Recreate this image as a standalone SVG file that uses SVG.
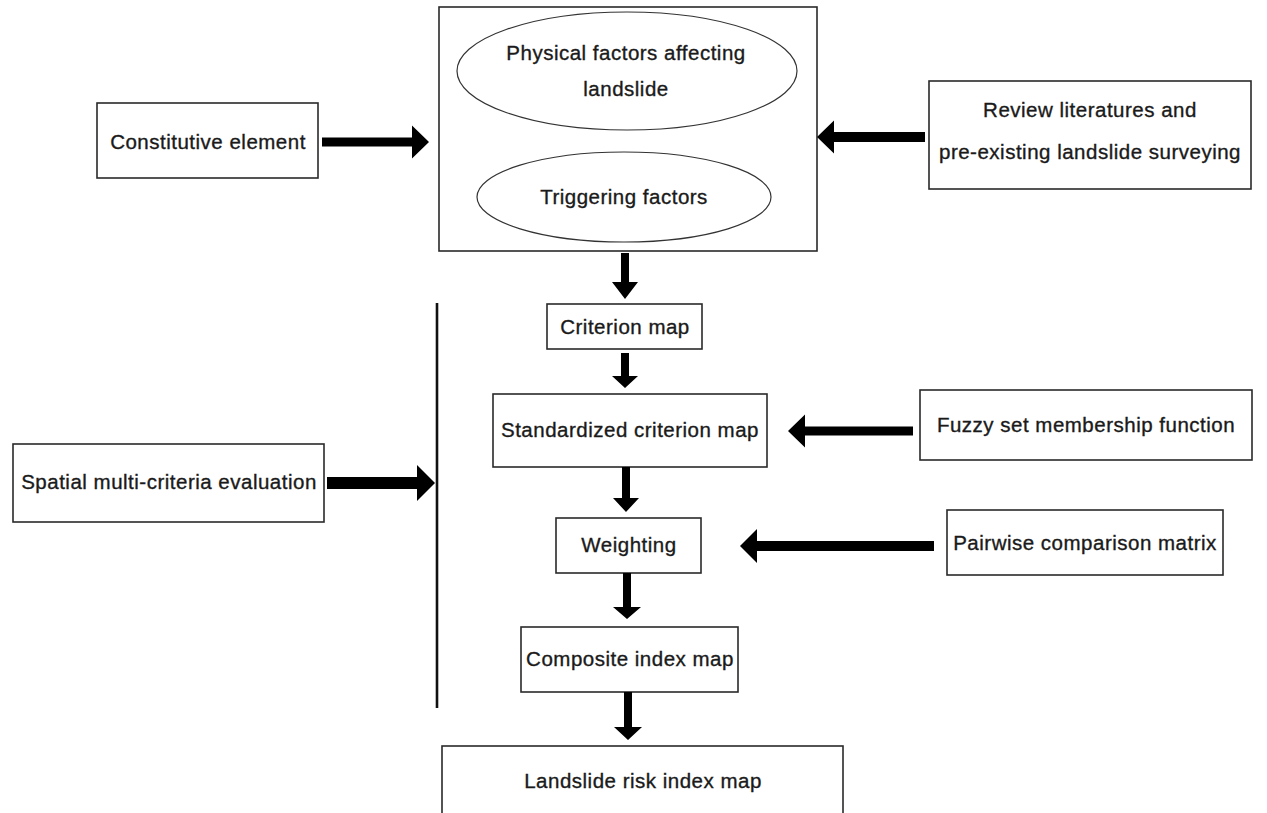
<svg xmlns="http://www.w3.org/2000/svg" width="1267" height="813" viewBox="0 0 1267 813">
<style>
.box{fill:#fff;stroke:#2a2a2a;stroke-width:1.6}
.ell{fill:#fff;stroke:#333;stroke-width:1.2}
.t{font-family:"Liberation Sans",Arial,sans-serif;font-size:20.5px;letter-spacing:0.5px;fill:#1a1a1a;stroke:#1a1a1a;stroke-width:0.35;text-anchor:middle}
.ar{fill:#000;stroke:none}
.ln{stroke:#111;stroke-width:2.6;fill:none}
</style>
<rect width="1267" height="813" fill="#fff"/>
<g id="n-constitutive"><rect class="box" x="97" y="103" width="221" height="75"/><text class="t" x="208" y="149">Constitutive element</text></g>
<g id="n-factors"><rect class="box" x="439" y="7" width="378" height="244"/>
<ellipse class="ell" cx="627" cy="71" rx="170" ry="59"/>
<text class="t" x="626" y="60">Physical factors affecting</text>
<text class="t" x="626" y="96">landslide</text>
<ellipse class="ell" cx="624" cy="197" rx="147" ry="45"/>
<text class="t" x="624" y="204">Triggering factors</text></g>
<g id="n-review"><rect class="box" x="929" y="81" width="322" height="108"/><text class="t" x="1090" y="117">Review literatures and</text><text class="t" x="1090" y="159">pre-existing landslide surveying</text></g>
<g id="n-criterion"><rect class="box" x="547" y="304" width="155" height="45"/><text class="t" x="625" y="334">Criterion map</text></g>
<g id="n-standardized"><rect class="box" x="493" y="394" width="274" height="73"/><text class="t" x="630" y="437">Standardized criterion map</text></g>
<g id="n-fuzzy"><rect class="box" x="920" y="390" width="332" height="70"/><text class="t" x="1086" y="432">Fuzzy set membership function</text></g>
<g id="n-spatial"><rect class="box" x="13" y="444" width="311" height="78"/><text class="t" x="169" y="489">Spatial multi-criteria evaluation</text></g>
<g id="n-weighting"><rect class="box" x="556" y="518" width="145" height="55"/><text class="t" x="629" y="552">Weighting</text></g>
<g id="n-pairwise"><rect class="box" x="947" y="510" width="276" height="65"/><text class="t" x="1085" y="550">Pairwise comparison matrix</text></g>
<g id="n-composite"><rect class="box" x="521" y="627" width="217" height="65"/><text class="t" x="630" y="666">Composite index map</text></g>
<g id="n-risk"><rect class="box" x="442" y="746" width="401" height="72"/><text class="t" x="643" y="788">Landslide risk index map</text></g>
<g id="connectors">
<line class="ln" x1="437" y1="303" x2="437" y2="708"/>
<path class="ar" d="M322 137.5H412V125.5L429 142L412 158.5V146.5H322Z"/>
<path class="ar" d="M925 132H834V120.5L817 137L834 153.5V142H925Z"/>
<path class="ar" d="M327 477H417V465L435 483L417 501V489H327Z"/>
<path class="ar" d="M913 426.5H805V414.5L788 431L805 447.5V435.5H913Z"/>
<path class="ar" d="M934 541H757V529L740 546L757 563V551H934Z"/>
<path class="ar" d="M621 253V282H612L625 299L638 282H629V253Z"/>
<path class="ar" d="M621 353V376H612L625 388L638 376H629V353Z"/>
<path class="ar" d="M622 467V498H613L626 512L639 498H630V467Z"/>
<path class="ar" d="M623 573V607H613L627 619L641 607H631V573Z"/>
<path class="ar" d="M624 692V727H614L628 740L642 727H632V692Z"/>
</g>
</svg>
